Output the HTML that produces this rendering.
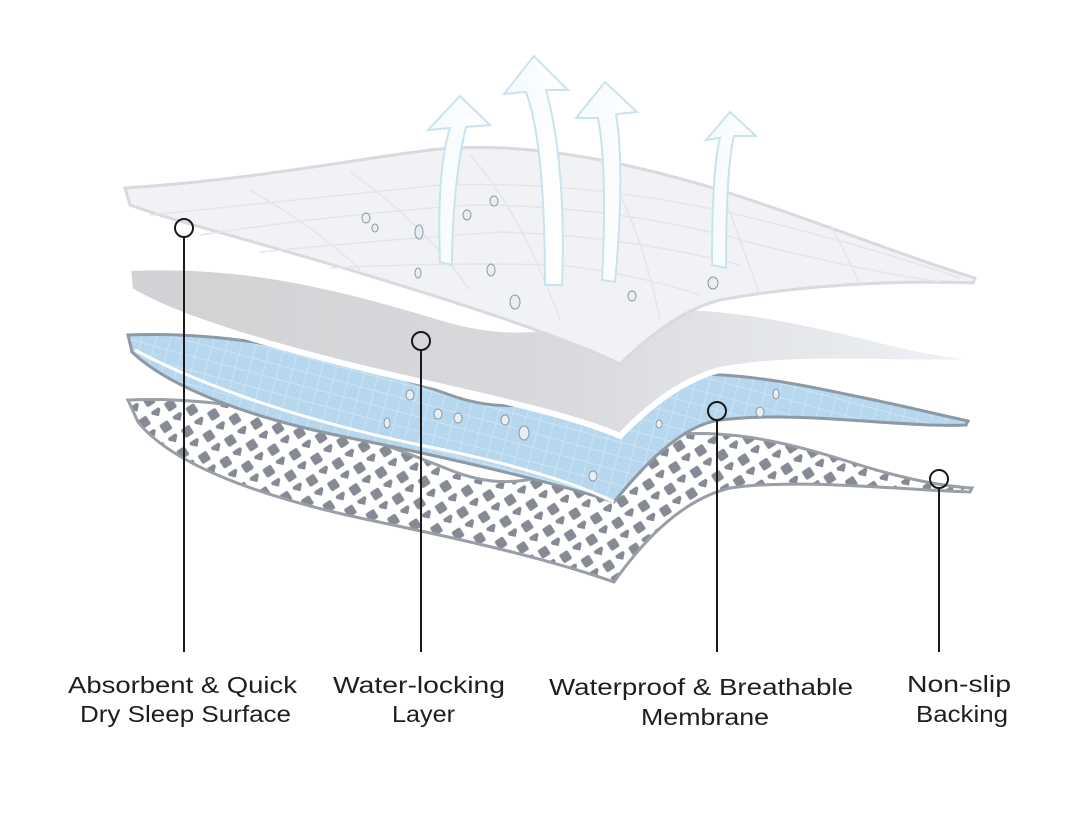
<!DOCTYPE html>
<html><head><meta charset="utf-8"><style>
html,body{margin:0;padding:0;background:#fff;}
svg{display:block;}
text{font-family:"Liberation Sans",sans-serif;font-size:23px;fill:#1e1e1e;}
</style></head><body>
<svg width="1080" height="819" viewBox="0 0 1080 819" xmlns="http://www.w3.org/2000/svg">
<defs>
<pattern id="dots" width="22" height="22" patternUnits="userSpaceOnUse" patternTransform="rotate(12)">
<rect width="22" height="22" fill="#fff"/>
<rect x="4" y="4" width="10" height="10" rx="2" fill="#858a94" transform="rotate(45 9 9)"/>
<rect x="15" y="15" width="10" height="10" rx="2" fill="#858a94" transform="rotate(45 20 20)"/>
</pattern>
<pattern id="grid" width="14" height="14" patternUnits="userSpaceOnUse" patternTransform="rotate(15)">
<rect width="14" height="14" fill="#b7d7ef"/>
<path d="M0 0H14M0 0V14" stroke="#d2e7f6" stroke-width="1.5"/>
</pattern>
<linearGradient id="gray" x1="0" x2="1" y1="0" y2="0">
<stop offset="0" stop-color="#d2d2d5"/><stop offset="0.5" stop-color="#d8d9dc"/><stop offset="1" stop-color="#eef1f5"/>
</linearGradient>
<linearGradient id="arr" x1="0" x2="1"><stop offset="0" stop-color="#f4fafd"/><stop offset="1" stop-color="#ffffff"/></linearGradient>
</defs>

<!-- dotted backing -->
<path d="M128 400 C250 395 350 430 450 470 C520 498 560 470 620 445 C700 420 780 440 850 462 C900 478 940 486 972 488 L970 492 C900 490 800 478 730 488 C680 500 640 545 614 582 C540 556 450 537 360 518 C250 494 170 462 138 422 Z" fill="url(#dots)" stroke="#9a9ea6" stroke-width="3"/>

<!-- blue membrane -->
<path d="M128 335 C250 330 350 360 450 395 C520 420 560 395 620 380 C700 365 780 380 850 395 C900 405 940 415 968 421 L966 425 C900 428 800 410 720 420 C680 425 640 470 614 502 C560 484 450 458 350 438 C250 418 170 388 132 352 Z" fill="url(#grid)" stroke="#8d9aa5" stroke-width="3"/>
<path d="M135 350 C200 385 300 420 420 445 C520 465 580 485 614 502" fill="none" stroke="#fff" stroke-width="3"/>

<!-- gray water-locking -->
<path d="M128 268 C250 262 350 290 450 320 C520 340 570 325 620 310 C700 298 800 320 880 340 C920 350 950 355 965 356 L965 362 C900 365 800 355 720 370 C680 380 645 410 620 436 C560 410 450 390 350 365 C250 340 170 315 130 290 Z" fill="url(#gray)" stroke="#fff" stroke-width="6"/>

<!-- top quilted -->
<path d="M125 188 C250 180 350 160 430 150 C520 140 620 160 720 190 C820 222 900 255 975 278 L973 283 C900 280 800 285 720 300 C680 310 645 340 620 364 C560 335 450 300 350 270 C250 240 170 220 130 205 Z" fill="#f1f2f5" stroke="#d8dadf" stroke-width="3"/>
<g fill="none" stroke="#e3e5ea" stroke-width="1.5">
<path d="M150 215 Q300 200 440 185 Q600 180 760 220 Q880 250 960 278"/>
<path d="M200 235 Q330 215 470 205 Q620 205 760 245 Q860 270 940 282"/>
<path d="M260 252 Q380 240 500 232 Q620 235 740 265"/>
<path d="M330 268 Q450 262 560 265 Q640 275 700 295"/>
<path d="M250 190 Q320 230 360 270 M350 172 Q420 220 470 290 M470 155 Q520 210 560 320 M600 160 Q640 220 660 320 M720 185 Q740 240 760 295 M830 225 Q850 260 860 285"/>
</g>

<!-- arrows -->
<g fill="url(#arr)" stroke="#c9e3ee" stroke-width="2">
<path d="M440 262 C438 210 440 160 450 128 L428 130 L460 96 L490 125 L466 127 C458 160 452 210 452 265 Z"/>
<path d="M545 285 C545 200 540 130 526 92 L504 94 L534 56 L568 90 L546 90 C560 140 565 210 562 285 Z"/>
<path d="M602 280 C606 200 604 150 598 118 L576 118 L605 82 L637 112 L616 114 C622 150 622 210 615 282 Z"/>
<path d="M712 265 C712 210 714 160 720 138 L706 140 L730 112 L756 136 L734 136 C728 160 726 210 726 268 Z"/>
</g>

<!-- droplets -->
<g fill="#e8eef4" stroke="#8c98a3" stroke-width="1">
<ellipse cx="366" cy="218" rx="4" ry="5"/><ellipse cx="375" cy="228" rx="3" ry="4"/>
<ellipse cx="419" cy="232" rx="4" ry="7"/><ellipse cx="467" cy="215" rx="4" ry="5"/>
<ellipse cx="494" cy="201" rx="4" ry="5"/><ellipse cx="418" cy="273" rx="3" ry="5"/>
<ellipse cx="491" cy="270" rx="4" ry="6"/><ellipse cx="515" cy="302" rx="5" ry="7"/>
<ellipse cx="632" cy="296" rx="4" ry="5"/><ellipse cx="713" cy="283" rx="5" ry="6"/>
<ellipse cx="410" cy="395" rx="4" ry="5"/><ellipse cx="438" cy="414" rx="4" ry="5"/>
<ellipse cx="458" cy="418" rx="4" ry="5"/><ellipse cx="387" cy="423" rx="3" ry="5"/>
<ellipse cx="505" cy="420" rx="4" ry="5"/><ellipse cx="524" cy="433" rx="5" ry="7"/>
<ellipse cx="593" cy="476" rx="4" ry="5"/><ellipse cx="659" cy="424" rx="3" ry="4"/>
<ellipse cx="760" cy="412" rx="4" ry="5"/><ellipse cx="776" cy="394" rx="3" ry="5"/>
</g>

<!-- callouts -->
<g fill="none" stroke="#1a1a1a" stroke-width="2">
<circle cx="184" cy="228" r="9"/><line x1="184" y1="237" x2="184" y2="652"/>
<circle cx="421" cy="341" r="9"/><line x1="421" y1="350" x2="421" y2="652"/>
<circle cx="717" cy="411" r="9"/><line x1="717" y1="420" x2="717" y2="652"/>
<circle cx="939" cy="479" r="9"/><line x1="939" y1="488" x2="939" y2="652"/>
</g>

<text x="68" y="693" textLength="229" lengthAdjust="spacingAndGlyphs">Absorbent &amp; Quick</text>
<text x="80" y="722" textLength="211" lengthAdjust="spacingAndGlyphs">Dry Sleep Surface</text>
<text x="333" y="693" textLength="172" lengthAdjust="spacingAndGlyphs">Water-locking</text>
<text x="392" y="722" textLength="63" lengthAdjust="spacingAndGlyphs">Layer</text>
<text x="549" y="695" textLength="304" lengthAdjust="spacingAndGlyphs">Waterproof &amp; Breathable</text>
<text x="641" y="725" textLength="128" lengthAdjust="spacingAndGlyphs">Membrane</text>
<text x="907" y="692" textLength="104" lengthAdjust="spacingAndGlyphs">Non-slip</text>
<text x="916" y="722" textLength="92" lengthAdjust="spacingAndGlyphs">Backing</text>
</svg>
</body></html>
